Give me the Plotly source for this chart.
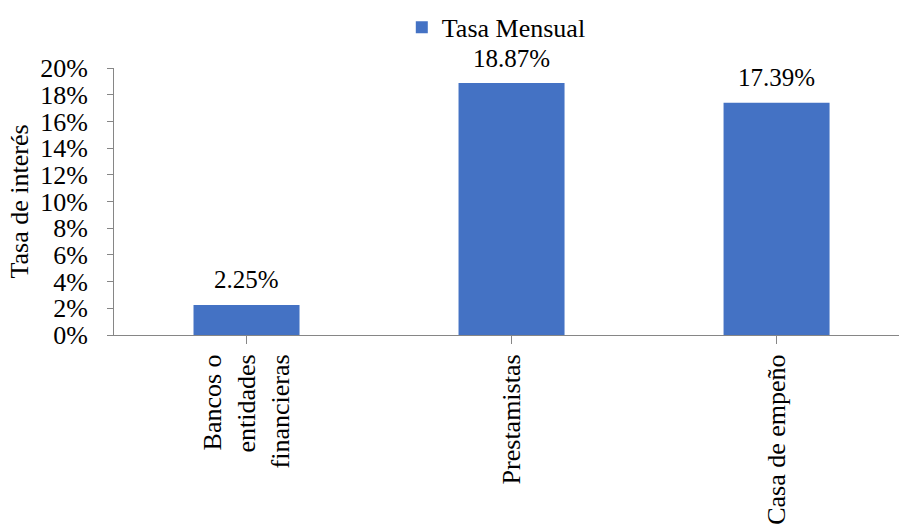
import plotly.graph_objects as go

categories = ["Bancos o<br>entidades<br>financieras", "Prestamistas", "Casa de empeño"]
tasa_mensual = [0.0225, 0.1887, 0.1739]
value_labels = ["2.25%", "18.87%", "17.39%"]
y_ticks = [i / 100 for i in range(0, 21, 2)]
y_tick_labels = [f"{i}%" for i in range(0, 21, 2)]

FONT = "Liberation Serif, Times New Roman, serif"
BLUE = "#4472C4"
AXIS = "#868686"

fig = go.Figure()
fig.add_trace(go.Bar(
    x=[0, 1, 2],
    y=tasa_mensual,
    name="Tasa Mensual",
    marker=dict(color=BLUE, line=dict(width=0)),
    width=0.4,
))

for xi, (v, lab) in enumerate(zip(tasa_mensual, value_labels)):
    fig.add_annotation(
        x=xi, y=v, text=lab, showarrow=False,
        yanchor="middle", yshift=25,
        font=dict(family=FONT, size=25, color="#000000"),
    )

fig.update_layout(
    width=899, height=525,
    margin=dict(l=114, r=0, t=68, b=187),
    paper_bgcolor="white", plot_bgcolor="white",
    font=dict(family=FONT, size=26, color="#000000"),
    showlegend=True,
    legend=dict(
        orientation="h", x=0.487, xanchor="center", y=1.152, yanchor="middle",
        font=dict(family=FONT, size=26),
        itemwidth=30,
    ),
    xaxis=dict(
        range=[-0.5, 2.462],
        tickmode="array", tickvals=[0, 1, 2], ticktext=categories,
        tickangle=-90,
        showline=True, linecolor=AXIS, linewidth=1,
        ticks="outside", tickson="boundaries", ticklen=8, tickcolor=AXIS,
        showgrid=False, zeroline=False,
        tickfont=dict(family=FONT, size=26),
    ),
    yaxis=dict(
        range=[0, 0.2],
        tickmode="array", tickvals=y_ticks, ticktext=y_tick_labels,
        showline=True, linecolor=AXIS, linewidth=1,
        ticks="outside", ticklen=6, tickcolor=AXIS,
        ticklabelstandoff=14,
        showgrid=False, zeroline=False,
        tickfont=dict(family=FONT, size=26),
        title=dict(text="Tasa de interés", font=dict(family=FONT, size=26), standoff=4),
    ),
)

fig.write_html("out.html")
